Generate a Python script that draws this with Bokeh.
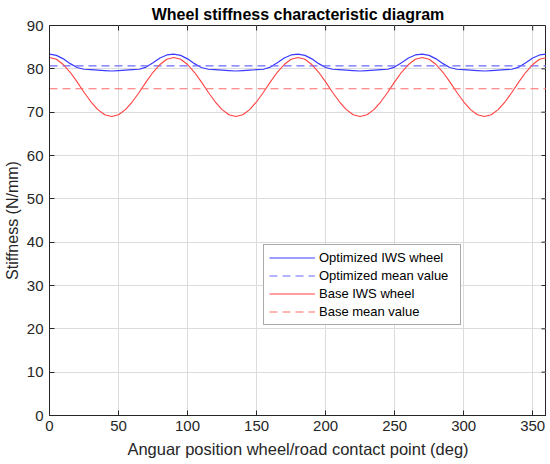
from bokeh.plotting import figure
from bokeh.models import Range1d, FixedTicker, Legend, LegendItem
from bokeh.embed import file_html
from bokeh.resources import INLINE

angle = list(range(0, 361, 5))

optimized = [
    83.4, 83.1, 82.3, 81.2, 80.3, 79.9, 79.8, 79.7, 79.6, 79.5, 79.6, 79.7, 79.8, 79.9, 80.4, 81.4, 82.5, 83.2,
    83.4, 83.1, 82.3, 81.2, 80.3, 79.9, 79.8, 79.7, 79.6, 79.5, 79.6, 79.7, 79.8, 79.9, 80.4, 81.4, 82.5, 83.2,
    83.4, 83.1, 82.3, 81.2, 80.3, 79.9, 79.8, 79.7, 79.6, 79.5, 79.6, 79.7, 79.8, 79.9, 80.4, 81.4, 82.5, 83.2,
    83.4, 83.1, 82.3, 81.2, 80.3, 79.9, 79.8, 79.7, 79.6, 79.5, 79.6, 79.7, 79.8, 79.9, 80.4, 81.4, 82.5, 83.2,
    83.4,
]
base = [
    82.6, 82.2, 81.0, 79.2, 77.0, 74.6, 72.4, 70.6, 69.4, 69.0, 69.4, 70.6, 72.4, 74.6, 77.0, 79.2, 81.0, 82.2,
    82.6, 82.2, 81.0, 79.2, 77.0, 74.6, 72.4, 70.6, 69.4, 69.0, 69.4, 70.6, 72.4, 74.6, 77.0, 79.2, 81.0, 82.2,
    82.6, 82.2, 81.0, 79.2, 77.0, 74.6, 72.4, 70.6, 69.4, 69.0, 69.4, 70.6, 72.4, 74.6, 77.0, 79.2, 81.0, 82.2,
    82.6, 82.2, 81.0, 79.2, 77.0, 74.6, 72.4, 70.6, 69.4, 69.0, 69.4, 70.6, 72.4, 74.6, 77.0, 79.2, 81.0, 82.2,
    82.6,
]
optimized_mean = 80.7
base_mean = 75.4

x_ticks = [0, 50, 100, 150, 200, 250, 300, 350]
y_ticks = [0, 10, 20, 30, 40, 50, 60, 70, 80, 90]

X_MIN, X_MAX = 0, 360
Y_MIN, Y_MAX = 0, 90

FONT = "Liberation Sans"
AX = "#262626"

p = figure(frame_width=497, frame_height=390, output_backend="svg", toolbar_location=None,
           x_range=Range1d(X_MIN, X_MAX), y_range=Range1d(Y_MIN, Y_MAX),
           min_border_left=41, min_border_right=0, min_border_top=0, min_border_bottom=0)
p.title.text = "Wheel stiffness characteristic diagram"
p.title.align = "center"
p.title.text_font = FONT
p.title.text_font_size = "16px"
p.title.text_font_style = "bold"
p.title.text_color = "#000000"
p.title.offset = 0
p.title.standoff = 6

p.outline_line_color = AX
p.outline_line_width = 1
p.background_fill_color = "white"
p.border_fill_color = "white"

for ax in (p.xaxis[0], p.yaxis[0]):
    ax.axis_line_color = AX
    ax.major_tick_line_color = AX
    ax.major_tick_in = 5
    ax.major_tick_out = 0
    ax.minor_tick_line_color = None
    ax.major_label_text_font = FONT
    ax.major_label_text_font_size = "15px"
    ax.major_label_text_color = AX
    ax.axis_label_text_font = FONT
    ax.axis_label_text_font_style = "normal"
    ax.axis_label_text_color = AX
p.xaxis.axis_label_text_font_size = "16.5px"
p.yaxis.axis_label_text_font_size = "16px"
p.xaxis.ticker = FixedTicker(ticks=x_ticks)
p.yaxis.ticker = FixedTicker(ticks=y_ticks)
p.xaxis.axis_label = "Anguar position wheel/road contact point (deg)"
p.yaxis.axis_label = "Stiffness (N/mm)"
p.xaxis.major_label_standoff = 5
p.yaxis.major_label_standoff = 6
p.xaxis.axis_label_standoff = 6
p.yaxis.axis_label_standoff = 3

p.xgrid.ticker = FixedTicker(ticks=x_ticks)
p.ygrid.ticker = FixedTicker(ticks=y_ticks)
p.grid.grid_line_color = "#dcdcdc"
p.grid.grid_line_width = 1

# box ticks on the top and right edges (MATLAB-style box)
tick_y = (Y_MAX - Y_MIN) * 5 / 390
tick_x = (X_MAX - X_MIN) * 5 / 497
p.segment(x0=x_ticks, y0=[Y_MAX] * len(x_ticks), x1=x_ticks, y1=[Y_MAX - tick_y] * len(x_ticks),
          line_color=AX, line_width=1)
p.segment(x0=[X_MAX] * len(y_ticks), y0=y_ticks, x1=[X_MAX - tick_x] * len(y_ticks), y1=y_ticks,
          line_color=AX, line_width=1)

r1 = p.line(angle, optimized, line_color="#3a3aff", line_width=1.2)
r2 = p.line([X_MIN, X_MAX], [optimized_mean, optimized_mean], line_color="#6a6aff", line_width=1.2, line_dash="8 5")
r3 = p.line(angle, base, line_color="#ff4040", line_width=1.1)
r4 = p.line([X_MIN, X_MAX], [base_mean, base_mean], line_color="#ff6a6a", line_width=1.2, line_dash="8 5")

legend = Legend(items=[
    LegendItem(label="Optimized IWS wheel", renderers=[r1]),
    LegendItem(label="Optimized mean value", renderers=[r2]),
    LegendItem(label="Base IWS wheel", renderers=[r3]),
    LegendItem(label="Base mean value", renderers=[r4]),
], location=(214, 90))
legend.label_text_font = FONT
legend.label_text_font_size = "13px"
legend.label_text_color = "#000000"
legend.border_line_color = "#555555"
legend.border_line_width = 1
legend.background_fill_color = "white"
legend.background_fill_alpha = 1
legend.glyph_width = 46
legend.glyph_height = 15
legend.label_height = 15
legend.label_width = 136
legend.spacing = 3
legend.padding = 5
legend.margin = 0
legend.label_standoff = 4
p.add_layout(legend, "center")

open("out.html", "w").write(file_html(p, INLINE))
